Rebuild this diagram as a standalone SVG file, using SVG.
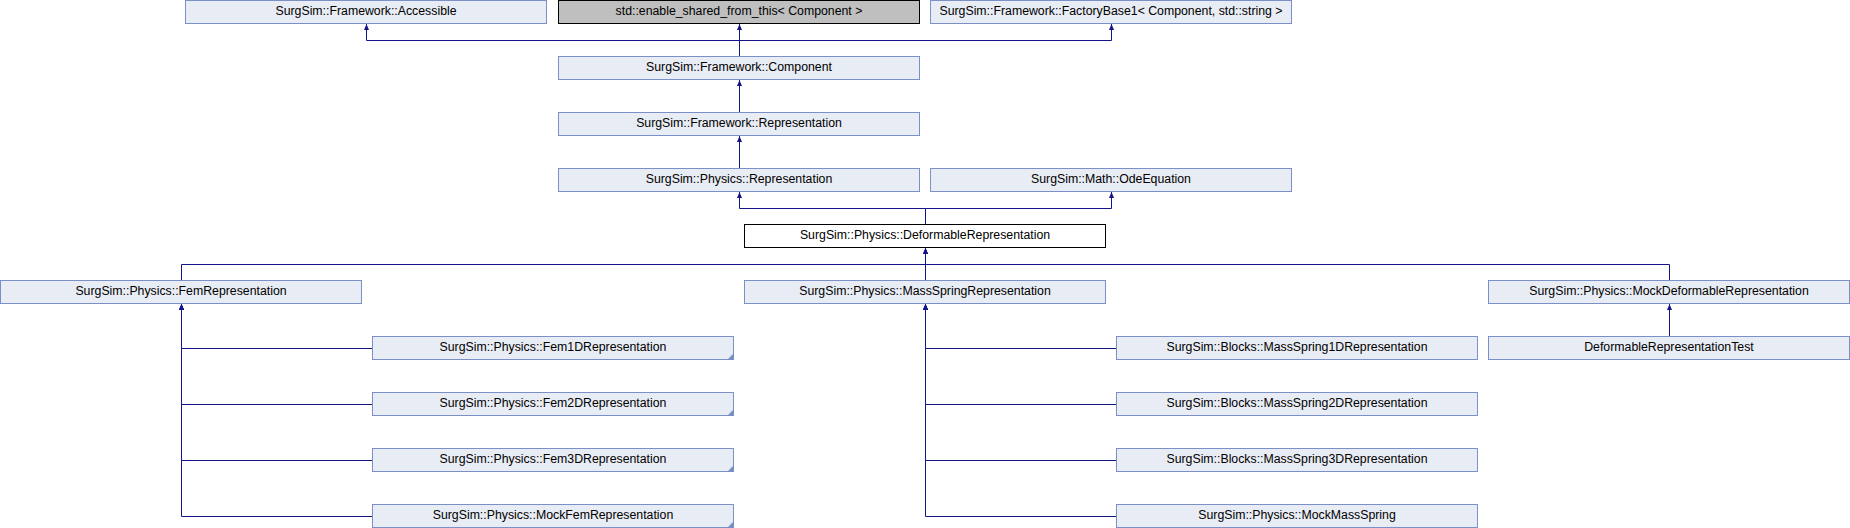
<svg xmlns="http://www.w3.org/2000/svg" width="1850" height="528" viewBox="0 0 1850 528">
<style>
.n rect{fill:#E8ECF4;stroke:#7B8FC8;stroke-width:1}
.n text{font-family:"Liberation Sans",Arial,sans-serif;font-size:12.3px;fill:#000;text-anchor:middle}
.n.ext rect{fill:#BFBFBF;stroke:#000}
.n.cur rect{fill:#FFFFFF;stroke:#000}
.n .tri{fill:#7B8FC8}
.e path{fill:none;stroke:#141489;stroke-width:1;marker-end:url(#ah)}
</style>
<defs>
<marker id="ah" viewBox="0 0 6 5" refX="6" refY="2.5" markerWidth="6" markerHeight="5" markerUnits="userSpaceOnUse" orient="auto">
<path d="M0,0 L6,2.5 L0,5 z" fill="#141489"/>
</marker>
</defs>
<rect width="1850" height="528" fill="#FFFFFF"/>
<g class="e" id="connectors">
<path d="M739.5,56 V40.5 H366.5 V24"/>
<path d="M739.5,56 V24"/>
<path d="M739.5,56 V40.5 H1111.5 V24"/>
<path d="M739.5,112 V80"/>
<path d="M739.5,168 V136"/>
<path d="M925.5,224 V208.5 H739.5 V192"/>
<path d="M925.5,224 V208.5 H1111.5 V192"/>
<path d="M181.5,280 V264.5 H925.5 V248"/>
<path d="M925.5,280 V248"/>
<path d="M1669.5,280 V264.5 H925.5 V248"/>
<path d="M372,348.5 H181.5 V304"/>
<path d="M372,404.5 H181.5 V304"/>
<path d="M372,460.5 H181.5 V304"/>
<path d="M372,516.5 H181.5 V304"/>
<path d="M1116,348.5 H925.5 V304"/>
<path d="M1116,404.5 H925.5 V304"/>
<path d="M1116,460.5 H925.5 V304"/>
<path d="M1116,516.5 H925.5 V304"/>
<path d="M1669.5,336 V304"/>
</g>
<g class="n" id="accessible"><rect x="185.5" y="0.5" width="361" height="23"/><text x="366" y="15">SurgSim::Framework::Accessible</text></g>
<g class="n ext" id="enable_shared"><rect x="558.5" y="0.5" width="361" height="23"/><text x="739" y="15">std::enable_shared_from_this&lt; Component &gt;</text></g>
<g class="n" id="factorybase"><rect x="930.5" y="0.5" width="361" height="23"/><text x="1111" y="15">SurgSim::Framework::FactoryBase1&lt; Component, std::string &gt;</text></g>
<g class="n" id="component"><rect x="558.5" y="56.5" width="361" height="23"/><text x="739" y="71">SurgSim::Framework::Component</text></g>
<g class="n" id="fw_representation"><rect x="558.5" y="112.5" width="361" height="23"/><text x="739" y="127">SurgSim::Framework::Representation</text></g>
<g class="n" id="ph_representation"><rect x="558.5" y="168.5" width="361" height="23"/><text x="739" y="183">SurgSim::Physics::Representation</text></g>
<g class="n" id="odeequation"><rect x="930.5" y="168.5" width="361" height="23"/><text x="1111" y="183">SurgSim::Math::OdeEquation</text></g>
<g class="n cur" id="deformable"><rect x="744.5" y="224.5" width="361" height="23"/><text x="925" y="239">SurgSim::Physics::DeformableRepresentation</text></g>
<g class="n" id="femrep"><rect x="0.5" y="280.5" width="361" height="23"/><text x="181" y="295">SurgSim::Physics::FemRepresentation</text></g>
<g class="n" id="massspringrep"><rect x="744.5" y="280.5" width="361" height="23"/><text x="925" y="295">SurgSim::Physics::MassSpringRepresentation</text></g>
<g class="n" id="mockdeformable"><rect x="1488.5" y="280.5" width="361" height="23"/><text x="1669" y="295">SurgSim::Physics::MockDeformableRepresentation</text></g>
<g class="n" id="fem1d"><rect x="372.5" y="336.5" width="361" height="23"/><path class="tri" d="M727.5,359.5 L733.5,353.5 L733.5,359.5 z"/><text x="553" y="351">SurgSim::Physics::Fem1DRepresentation</text></g>
<g class="n" id="fem2d"><rect x="372.5" y="392.5" width="361" height="23"/><path class="tri" d="M727.5,415.5 L733.5,409.5 L733.5,415.5 z"/><text x="553" y="407">SurgSim::Physics::Fem2DRepresentation</text></g>
<g class="n" id="fem3d"><rect x="372.5" y="448.5" width="361" height="23"/><path class="tri" d="M727.5,471.5 L733.5,465.5 L733.5,471.5 z"/><text x="553" y="463">SurgSim::Physics::Fem3DRepresentation</text></g>
<g class="n" id="mockfem"><rect x="372.5" y="504.5" width="361" height="23"/><path class="tri" d="M727.5,527.5 L733.5,521.5 L733.5,527.5 z"/><text x="553" y="519">SurgSim::Physics::MockFemRepresentation</text></g>
<g class="n" id="ms1d"><rect x="1116.5" y="336.5" width="361" height="23"/><text x="1297" y="351">SurgSim::Blocks::MassSpring1DRepresentation</text></g>
<g class="n" id="ms2d"><rect x="1116.5" y="392.5" width="361" height="23"/><text x="1297" y="407">SurgSim::Blocks::MassSpring2DRepresentation</text></g>
<g class="n" id="ms3d"><rect x="1116.5" y="448.5" width="361" height="23"/><text x="1297" y="463">SurgSim::Blocks::MassSpring3DRepresentation</text></g>
<g class="n" id="mockmassspring"><rect x="1116.5" y="504.5" width="361" height="23"/><text x="1297" y="519">SurgSim::Physics::MockMassSpring</text></g>
<g class="n" id="deftest"><rect x="1488.5" y="336.5" width="361" height="23"/><text x="1669" y="351">DeformableRepresentationTest</text></g>
</svg>
